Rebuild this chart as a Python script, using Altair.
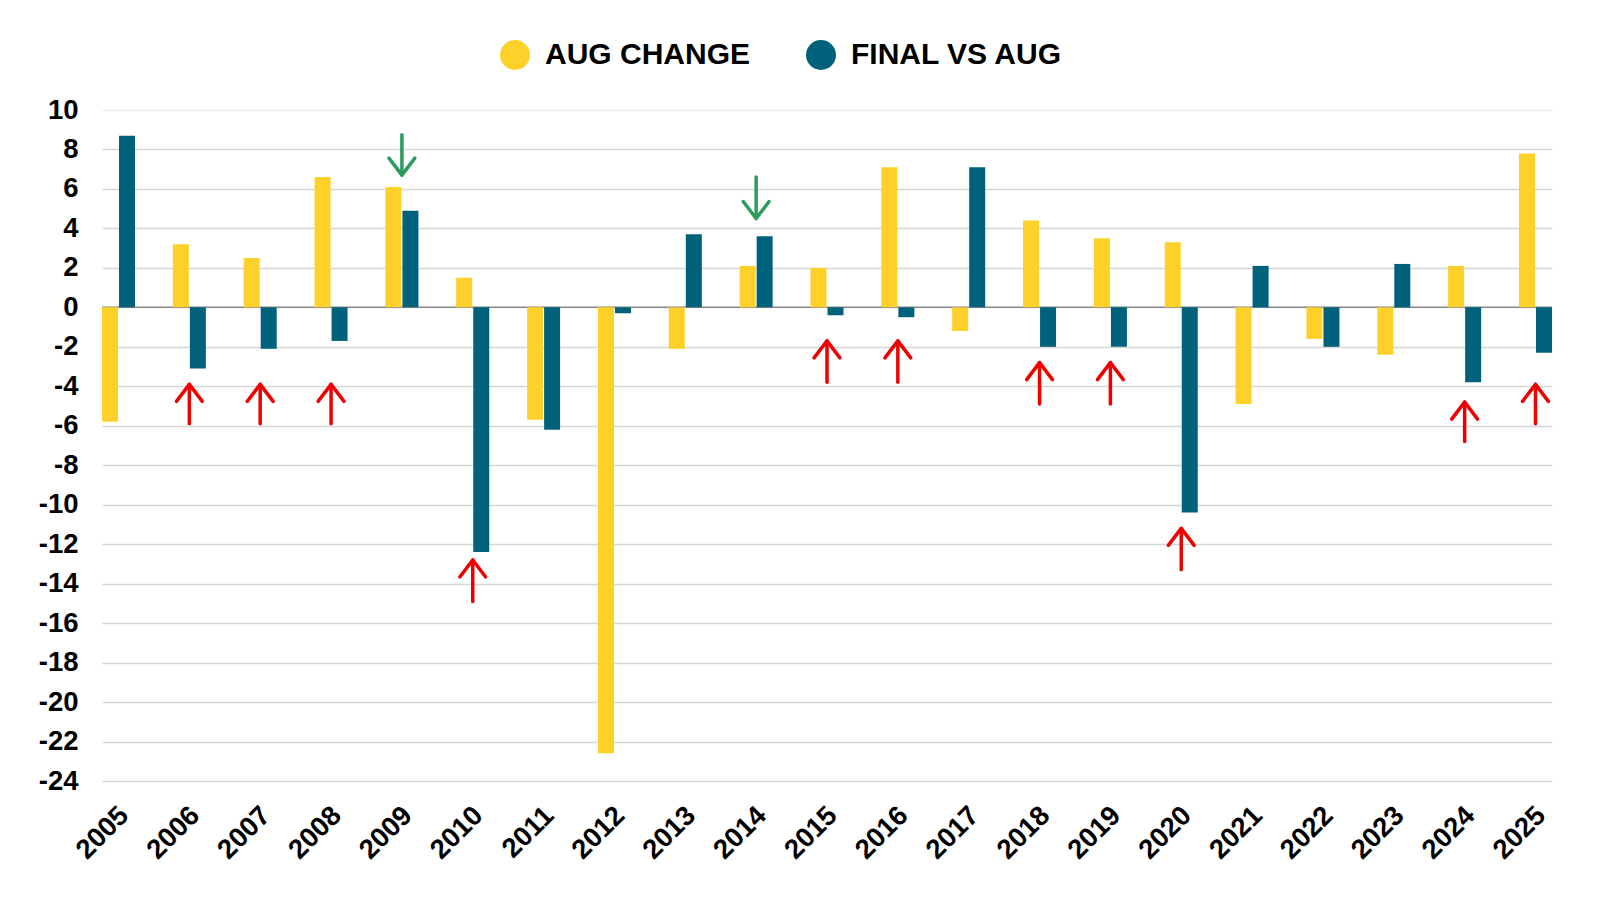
import altair as alt
import pandas as pd

# ---- data ----
years = [str(y) for y in range(2005, 2026)]
aug_change = [-5.8, 3.2, 2.5, 6.6, 6.1, 1.5, -5.7, -22.6, -2.1, 2.1, 2.0,
              7.1, -1.2, 4.4, 3.5, 3.3, -4.9, -1.6, -2.4, 2.1, 7.8]
final_vs_aug = [8.7, -3.1, -2.1, -1.7, 4.9, -12.4, -6.2, -0.3, 3.7, 3.6, -0.4,
                -0.5, 7.1, -2.0, -2.0, -10.4, 2.1, -2.0, 2.2, -3.8, -2.3]
series = ["AUG CHANGE", "FINAL VS AUG"]
colors = ["#FED02A", "#00627A"]
y_ticks = list(range(-24, 11, 2))

# hand-drawn annotation arrows (tip / tail values on the y scale)
up_years = ["2006", "2007", "2008", "2010", "2015", "2016", "2018", "2019", "2020", "2024", "2025"]
up_tip = [-3.9, -3.9, -3.9, -12.8, -1.7, -1.7, -2.8, -2.8, -11.2, -4.8, -3.9]
up_tail = [-5.9, -5.9, -5.9, -14.9, -3.8, -3.8, -4.9, -4.9, -13.3, -6.8, -5.9]
down_years = ["2009", "2014"]
down_tip = [6.7, 4.5]
down_tail = [8.75, 6.6]

FONT = "Liberation Sans"

df = pd.DataFrame({
    "year": years * 2,
    "series": [series[0]] * len(years) + [series[1]] * len(years),
    "value": aug_change + final_vs_aug,
})
up_df = pd.DataFrame({"year": up_years, "tip": up_tip, "tail": up_tail})
down_df = pd.DataFrame({"year": down_years, "tip": down_tip, "tail": down_tail})
zero_df = pd.DataFrame({"year": [years[0]], "v": [0]})

x_scale = alt.Scale(domain=years, paddingInner=0.534, paddingOuter=0)
y_scale = alt.Scale(domain=[-24, 10], nice=False, zero=False)

x_axis = alt.Axis(
    title=None, labelAngle=-45, labelAlign="right", labelBaseline="middle",
    labelFont=FONT, labelFontSize=27.5, labelFontWeight="bold", labelColor="#000000",
    labelPadding=30, labelOffset=6, ticks=False, domain=False, grid=False)
y_axis = alt.Axis(
    title=None, values=y_ticks, labelExpr="'' + datum.value",
    labelFont=FONT, labelFontSize=27.5, labelFontWeight="bold", labelColor="#000000",
    labelPadding=24, ticks=False, domain=False, grid=True,
    gridColor={"condition": {"test": "datum.value === 10", "value": "#eeeeee"}, "value": "#d6d6d6"},
    gridWidth=1.4)

bars = alt.Chart(df).mark_bar().encode(
    x=alt.X("year:N", scale=x_scale, sort=years, axis=x_axis),
    xOffset=alt.XOffset("series:N", sort=series, scale=alt.Scale(domain=series, paddingInner=0.06)),
    y=alt.Y("value:Q", scale=y_scale, axis=y_axis),
    color=alt.Color("series:N", sort=series, scale=alt.Scale(domain=series, range=colors),
                    legend=alt.Legend(
                        title=None, orient="none", legendX=398, legendY=-70,
                        direction="horizontal", columns=2, symbolType="circle",
                        symbolSize=900, symbolStrokeWidth=0, symbolOpacity=1,
                        labelFont=FONT, labelFontSize=30, labelFontWeight="bold",
                        labelColor="#000000", labelOffset=15, columnPadding=55,
                        padding=0, labelLimit=400)),
)

zero = alt.Chart(zero_df).mark_rule(color="#8c8c8c", strokeWidth=1.5).encode(
    y=alt.Y("v:Q", scale=y_scale, axis=y_axis))

RED = "#EE0000"
GREEN = "#2E9B5E"

up_shaft = alt.Chart(up_df).mark_rule(color=RED, strokeWidth=3.5, strokeCap="round").encode(
    x=alt.X("year:N", scale=x_scale, sort=years, axis=x_axis),
    y=alt.Y("tip:Q", scale=y_scale, axis=y_axis), y2="tail:Q")
up_head = alt.Chart(up_df).mark_point(
    shape="M -0.76 1 L 0 0 L 0.76 1", filled=False, stroke=RED, strokeWidth=3.5,
    size=1156, strokeCap="round", strokeJoin="round", opacity=1).encode(
    x=alt.X("year:N", scale=x_scale, sort=years, axis=x_axis),
    y=alt.Y("tip:Q", scale=y_scale, axis=y_axis))

down_shaft = alt.Chart(down_df).mark_rule(color=GREEN, strokeWidth=3.5, strokeCap="round").encode(
    x=alt.X("year:N", scale=x_scale, sort=years, axis=x_axis),
    y=alt.Y("tip:Q", scale=y_scale, axis=y_axis), y2="tail:Q")
down_head = alt.Chart(down_df).mark_point(
    shape="M -0.76 -1 L 0 0 L 0.76 -1", filled=False, stroke=GREEN, strokeWidth=3.5,
    size=1156, strokeCap="round", strokeJoin="round", opacity=1).encode(
    x=alt.X("year:N", scale=x_scale, sort=years, axis=x_axis),
    y=alt.Y("tip:Q", scale=y_scale, axis=y_axis))

chart = alt.layer(zero, bars, up_shaft, up_head, down_shaft, down_head).properties(
    width=1450, height=671,
    padding={"left": 94, "top": 102, "right": 40, "bottom": 110},
    autosize=alt.AutoSizeParams(type="none"),
    background="#ffffff",
).configure_view(stroke=None)

chart.save("out.html", embed_options={"renderer": "svg", "actions": False})
